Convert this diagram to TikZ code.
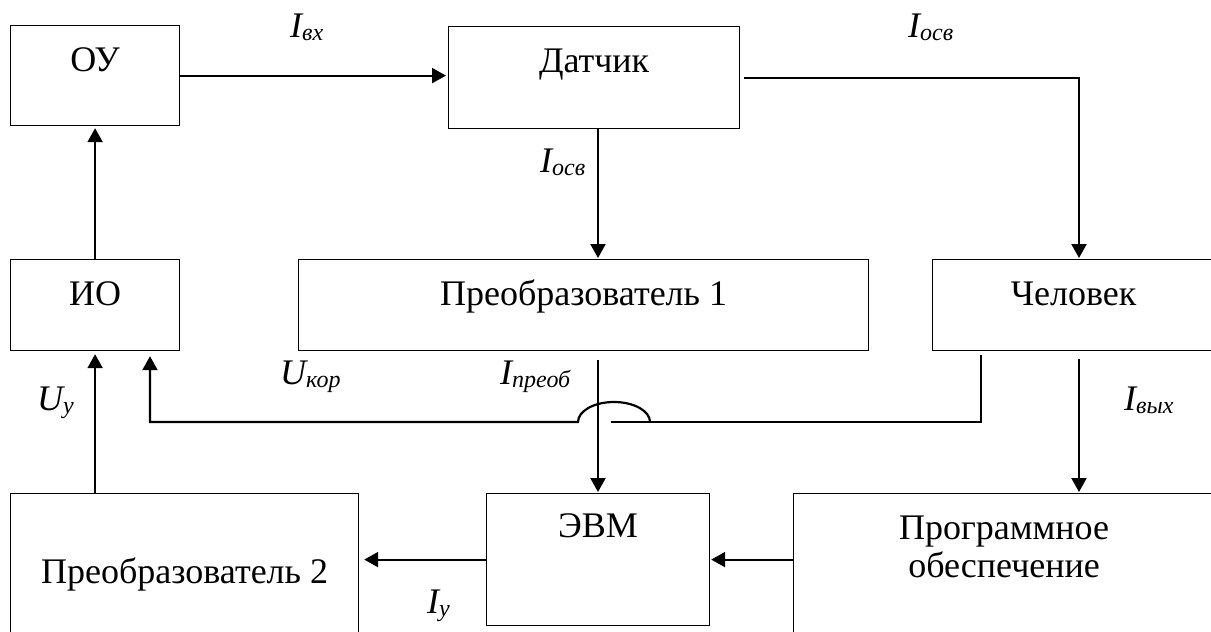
\documentclass[tikz,border=0pt]{standalone}
\usepackage{fontspec}
\setmainfont{Liberation Serif}
\usetikzlibrary{arrows.meta}
% signal name with a lowered, smaller index
\newcommand\signame[2]{#1\raisebox{-3pt}{\fontsize{24}{24}\selectfont #2}}
\begin{document}
\begin{tikzpicture}[x=1pt,y=-1pt,
  box/.style={draw, line width=1.2pt, rectangle, inner sep=0pt, anchor=north west,
    font=\fontsize{36}{38}\selectfont},
  conn/.style={line width=2.2pt},
  arr/.style={conn, -{Triangle[length=14pt,width=15pt]}, shorten >=1pt},
  sig/.style={anchor=base west, inner sep=0pt, font=\fontsize{36}{38}\selectfont\itshape}]
\useasboundingbox (0,0) rectangle (1211,632);
\clip (0,0) rectangle (1211,632);

% blocks
\node[box, minimum width=169pt, text height=46pt, text depth=54pt] (ou)  at (10,25)  {ОУ};
\node[box, minimum width=291pt, text height=46pt, text depth=56pt] (dat) at (448,26) {Датчик};
\node[box, minimum width=169pt, text height=46pt, text depth=45pt] (io)  at (10,259) {ИО};
\node[box, minimum width=570pt, text height=46pt, text depth=45pt] (pr1) at (298,259) {Преобразователь 1};
\node[box, minimum width=282pt, text height=46pt, text depth=45pt] (man) at (932,259) {Человек};
\node[box, minimum width=348pt, text height=90pt, text depth=77pt] (pr2) at (10,493) {Преобразователь 2};
\node[box, minimum width=223pt, text height=44pt, text depth=88pt] (evm) at (486,493) {ЭВМ};
\node[box, minimum width=421pt, text height=46pt, text depth=121pt] (po) at (793,493)
  {\begin{tabular}[t]{@{}c@{}}Программное\\обеспечение\end{tabular}};

% bend points and free ends
\coordinate (xc)   at (598,0);
\coordinate (k1)   at (1079,76);
\coordinate (p1s)  at (598,360);
\coordinate (ms)   at (1079,359);
\coordinate (fbA)  at (981,355);
\coordinate (fbB)  at (981,422);
\coordinate (gapR) at (611,422);
\coordinate (hopR) at (650,422);
\coordinate (fbC)  at (150,422);

% connectors
\draw[arr, shorten >=2pt] (ou.east) -- (ou.east -| dat.west);
\draw[arr] ([xshift=4pt]dat.east) -- (k1 |- dat.east) -- (k1 |- man.north);
\draw[arr] (xc |- dat.south) -- (xc |- pr1.north);
\draw[arr, shorten >=2pt] (io.north) -- (ou.south);
\draw[arr, shorten >=3pt] (io.south |- pr2.north) -- (io.south);
\draw[arr] (p1s) -- (p1s |- evm.north);
\draw[arr] (ms) -- (ms |- po.north);
\draw[arr, shorten >=5pt] (evm.west) -- (evm.west -| pr2.east);
\draw[arr] (po.west |- evm.east) -- (evm.east);
% feedback from the operator, hopping over the vertical line
\draw[conn] (fbA) -- (fbB) -- (gapR);
\draw[arr, shorten >=5pt] (hopR) arc[start angle=0, end angle=180, x radius=36pt, y radius=20pt]
  -- (fbC) -- (fbC |- io.south);

% signal labels
\node[sig] (lvx)  at (290,37)  {\signame{I}{вх}};
\node[sig] (los1) at (908,37)  {\signame{I}{осв}};
\node[sig] (los2) at (540,172) {\signame{I}{осв}};
\node[sig] (lkor) at (280,384) {\signame{U}{кор}};
\node[sig] (lpr)  at (500,384) {\signame{I}{преоб}};
\node[sig] (luy)  at (37,410)  {\signame{U}{у}};
\node[sig] (lvyx) at (1124,410) {\signame{I}{вых}};
\node[sig] (liy)  at (427,613) {\signame{I}{у}};
\end{tikzpicture}
\end{document}
